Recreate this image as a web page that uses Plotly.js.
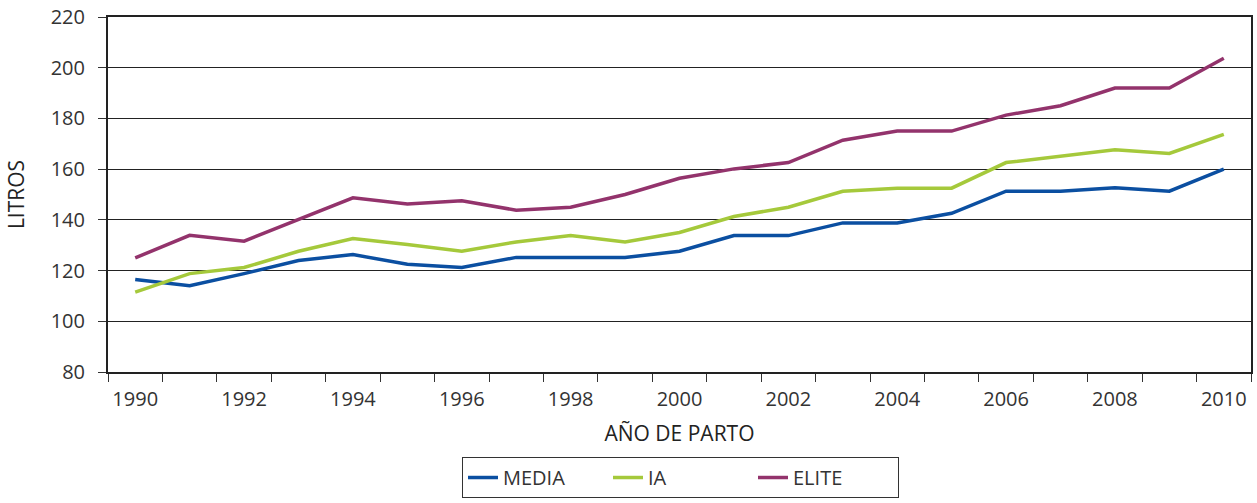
<!DOCTYPE html>
<html>
<head>
<meta charset="utf-8">
<script src="https://cdn.plot.ly/plotly-3.0.1.min.js"></script>
<style>html,body{margin:0;padding:0;background:#fff;}#chart{width:1257px;height:503px;}</style>
</head>
<body>
<div id="chart"></div>
<script>
const years = [1990,1991,1992,1993,1994,1995,1996,1997,1998,1999,2000,2001,2002,2003,2004,2005,2006,2007,2008,2009,2010];
const media = [116.5,114,118.8,124,126.3,122.5,121.2,125.2,125.2,125.2,127.6,133.8,133.8,138.8,138.8,142.6,151.3,151.3,152.7,151.3,160];
const ia    = [111.5,118.8,121.2,127.6,132.6,130.3,127.6,131.3,133.8,131.3,135,141.3,145,151.3,152.5,152.5,162.6,165.2,167.6,166.2,173.7];
const elite = [125,133.9,131.6,140,148.7,146.3,147.5,143.8,145,150,156.4,160.1,162.6,171.4,175,175,181.3,185,192,192,203.7];
const seriesNames = ["MEDIA","IA","ELITE"];
const tickYears = [1990,1992,1994,1996,1998,2000,2002,2004,2006,2008,2010];
const tickLabels = ["1990","1992","1994","1996","1998","2000","2002","2004","2006","2008","2010"];

const colors = ["#0b4fa1","#a5c93b","#93336c"];
const font = "'Open Sans', 'Noto Sans', sans-serif";
const traces = [media, ia, elite].map((vals, i) => ({
  type: 'scatter', mode: 'lines', x: years, y: vals, name: seriesNames[i],
  line: {color: colors[i], width: 3.5}
}));
const boundaries = years.map(y => y - 0.5).concat([years[years.length-1] + 0.5]);

const layout = {
  width: 1257, height: 503,
  margin: {l: 108, r: 6, t: 17, b: 130},
  paper_bgcolor: '#fff', plot_bgcolor: '#fff',
  font: {family: font, color: '#333', size: 20},
  showlegend: true,
  legend: {
    orientation: 'h', x: 0.3097, xanchor: 'left', y: -0.236, yanchor: 'top',
    bordercolor: '#333', borderwidth: 1, font: {size: 20, color: '#333'},
    entrywidth: 100, tracegroupgap: 0
  },
  xaxis: {
    range: [1989.5, 2010.5], tickmode: 'array', tickvals: tickYears, ticktext: tickLabels,
    ticks: '', showgrid: false, zeroline: false,
    showline: true, mirror: true, linewidth: 2, linecolor: '#222',
    ticklabelstandoff: 8,
    tickfont: {size: 20, color: '#333'},
    minor: {tickmode: 'array', tickvals: boundaries, ticks: 'outside', ticklen: 8, tickwidth: 1, tickcolor: '#333', showgrid: false},
    title: {text: 'AÑO DE PARTO', font: {size: 21, color: '#222'}, standoff: 15}
  },
  yaxis: {
    range: [80, 220], tickmode: 'linear', tick0: 80, dtick: 20,
    ticks: 'outside', ticklen: 8, tickwidth: 1, tickcolor: '#333',
    showgrid: true, gridcolor: '#222', gridwidth: 1, zeroline: false,
    showline: true, mirror: true, linewidth: 2, linecolor: '#222',
    ticklabelstandoff: 9,
    tickfont: {size: 20, color: '#333'},
    title: {text: 'LITROS', font: {size: 21, color: '#222'}, standoff: 20}
  }
};
Plotly.newPlot('chart', traces, layout, {displayModeBar: false, staticPlot: true});
</script>
</body>
</html>
